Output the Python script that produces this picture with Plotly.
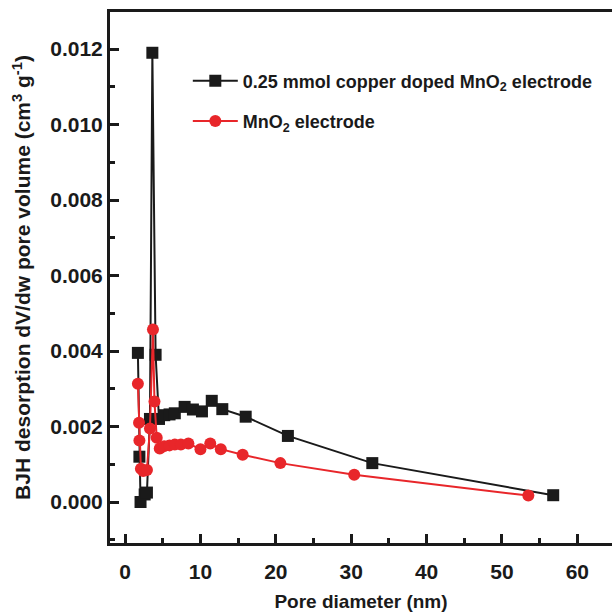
import plotly.graph_objects as go

# Data
cu_x = [1.7, 1.9, 2.05, 2.6, 2.9, 3.3, 3.62, 4.05, 4.5, 5.2, 5.9, 6.6, 7.9, 9.0, 10.2, 11.5, 12.9, 16.0, 21.6, 32.8, 56.8]
cu_y = [0.00395, 0.0012, 0.0000, 0.0002, 0.00025, 0.0022, 0.0119, 0.0039, 0.0022, 0.0023, 0.00232, 0.00235, 0.00252,
        0.00245, 0.0024, 0.00268, 0.00246, 0.00226, 0.00175, 0.00103, 0.00018]

mn_x = [1.7, 1.85, 1.9, 2.1, 2.4, 2.9, 3.3, 3.7, 3.9, 4.2, 4.6, 5.2, 5.9, 6.6, 7.4, 8.4, 10.0, 11.3, 12.7, 15.6, 20.6, 30.4, 53.5]
mn_y = [0.00313, 0.0021, 0.00163, 0.00088, 0.00082, 0.00085, 0.00195, 0.00457, 0.00266, 0.0017, 0.00142, 0.00148,
        0.0015, 0.00152, 0.00152, 0.00155, 0.0014, 0.00155, 0.0014, 0.00125, 0.00103, 0.00072, 0.00017]

names = ["0.25 mmol copper doped MnO<sub>2</sub> electrode", "MnO<sub>2</sub> electrode"]

x_ticks = [0, 10, 20, 30, 40, 50, 60]
x_ticklabels = ["0", "10", "20", "30", "40", "50", "60"]
y_ticks = [0.000, 0.002, 0.004, 0.006, 0.008, 0.010, 0.012]
y_ticklabels = ["0.000", "0.002", "0.004", "0.006", "0.008", "0.010", "0.012"]

FONT = "Liberation Sans, Arial, sans-serif"
INK = "#1a1a1a"

fig = go.Figure()
fig.add_trace(go.Scatter(x=cu_x, y=cu_y, mode="lines+markers", name="<b>%s</b>" % names[0],
                         legendgroup="a",
                         line=dict(color=INK, width=2),
                         marker=dict(symbol="square", size=12, color=INK)))
fig.add_trace(go.Scatter(x=mn_x, y=mn_y, mode="lines+markers", name="<b>%s</b>" % names[1],
                         legendgroup="b",
                         line=dict(color="#e8262a", width=2),
                         marker=dict(symbol="circle", size=12, color="#e8262a")))

fig.update_layout(
    width=612, height=612,
    margin=dict(l=110, r=0, t=12, b=69),
    paper_bgcolor="white", plot_bgcolor="white",
    font=dict(family=FONT, color=INK, size=20),
    showlegend=True,
    legend=dict(x=0.155, y=0.905, xanchor="left", yanchor="top",
                bgcolor="rgba(0,0,0,0)", borderwidth=0,
                font=dict(family=FONT, size=18, color=INK),
                itemwidth=45, traceorder="grouped", tracegroupgap=14),
)

fig.update_xaxes(
    range=[-2.0, 64.6], tickvals=x_ticks, ticktext=["<b>%s</b>" % t for t in x_ticklabels],
    ticks="inside", ticklen=9, tickwidth=3, tickcolor=INK,
    minor=dict(ticks="inside", ticklen=5, tickwidth=3, dtick=5, tick0=0, tickcolor=INK),
    showline=True, linewidth=3, linecolor=INK, mirror=True,
    showgrid=False, zeroline=False,
    ticklabelstandoff=8,
    tickfont=dict(family=FONT, size=21, color=INK),
    title=dict(text="<b>Pore diameter (nm)</b>", font=dict(family=FONT, size=19, color=INK), standoff=14),
)
fig.update_yaxes(
    range=[-0.001086, 0.01298], tickvals=y_ticks, ticktext=["<b>%s</b>" % t for t in y_ticklabels],
    ticks="inside", ticklen=9, tickwidth=3, tickcolor=INK,
    minor=dict(ticks="inside", ticklen=5, tickwidth=3, dtick=0.001, tick0=0, tickcolor=INK),
    showline=True, linewidth=3, linecolor=INK, mirror=False,
    showgrid=False, zeroline=False,
    tickfont=dict(family=FONT, size=21, color=INK),
    title=dict(text="<b>BJH desorption dV/dw pore volume (cm<sup>3</sup> g<sup>-1</sup>)</b>",
               font=dict(family=FONT, size=21, color=INK), standoff=14),
)

fig.write_html("out.html")
